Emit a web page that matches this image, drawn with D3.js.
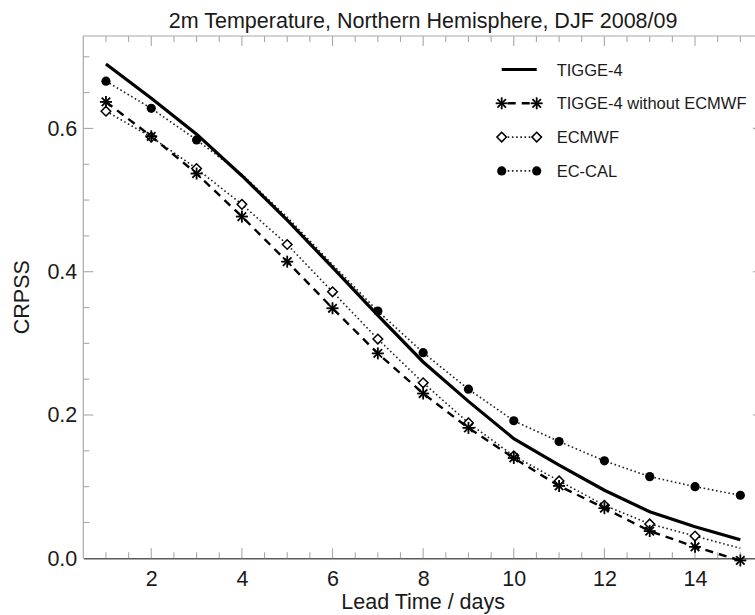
<!DOCTYPE html>
<html>
<head>
<meta charset="utf-8">
<script src="https://cdn.jsdelivr.net/npm/d3@7"></script>
<style>
  body { margin: 0; background: #fff; }
  svg { display: block; font-family: 'Liberation Sans', Arial, Helvetica, sans-serif; }
</style>
</head>
<body>
<svg id="chart" width="755" height="615"></svg>
<script>
// lead time in days
const days = [1, 2, 3, 4, 5, 6, 7, 8, 9, 10, 11, 12, 13, 14, 15];

// CRPSS values
const tigge4 = [0.690, 0.642, 0.592, 0.534, 0.472, 0.406, 0.339, 0.274, 0.219, 0.167, 0.130, 0.095, 0.065, 0.044, 0.026];
const tigge4NoEc = [0.637, 0.589, 0.537, 0.477, 0.414, 0.349, 0.286, 0.230, 0.182, 0.140, 0.101, 0.070, 0.038, 0.016, -0.003];
const ecmwf = [0.624, 0.588, 0.544, 0.494, 0.438, 0.372, 0.306, 0.245, 0.189, 0.143, 0.108, 0.074, 0.048, 0.031, 0.014];
const ecCal = [0.666, 0.628, 0.584, 0.536, 0.476, 0.410, 0.345, 0.287, 0.236, 0.192, 0.163, 0.136, 0.114, 0.100, 0.088];

// days that carry a plot symbol (as in the original figure)
const ecmwfMarked = [1, 2, 3, 4, 5, 6, 7, 8, 9, 10, 11, 12, 13, 14];
const ecCalMarked = [1, 2, 3, 7, 8, 9, 10, 11, 12, 13, 14, 15];

const xTicks = [2, 4, 6, 8, 10, 12, 14];
const yTicks = [0.0, 0.2, 0.4, 0.6];

const legendNames = ['TIGGE-4', 'TIGGE-4 without ECMWF', 'ECMWF', 'EC-CAL'];

const svg = d3.select('#chart');

const plot = { left: 83.3, right: 763, top: 36, bottom: 558.3 };
const fontSize = 21.5;

const x = d3.scaleLinear().domain([0.5, 15.5]).range([plot.left, plot.right]);
const y = d3.scaleLinear().domain([0, 0.729]).range([plot.bottom, plot.top]);

const frameColor = '#a8a8a8';

// frame: top, left, right
svg.append('path')
  .attr('d', `M${plot.left},${plot.bottom}V${plot.top}H${plot.right}V${plot.bottom}`)
  .attr('fill', 'none')
  .attr('stroke', frameColor)
  .attr('stroke-width', 1.2);

// bottom axis
const xAxis = svg.append('g')
  .attr('transform', `translate(0,${plot.bottom})`)
  .call(d3.axisBottom(x).tickValues(xTicks).tickSize(0).tickPadding(12).tickFormat(d3.format('d')));
xAxis.select('.domain').attr('stroke', '#5a5a5a').attr('stroke-width', 1.4);
xAxis.selectAll('text').attr('font-size', fontSize).attr('fill', '#1a1a1a')
  .attr('font-family', "'Liberation Sans', Arial, sans-serif");

// left axis labels
const yAxis = svg.append('g')
  .attr('transform', `translate(${plot.left},0)`)
  .call(d3.axisLeft(y).tickValues(yTicks).tickSize(0).tickPadding(6).tickFormat(d3.format('.1f')));
yAxis.select('.domain').remove();
yAxis.selectAll('text').attr('font-size', fontSize).attr('fill', '#1a1a1a')
  .attr('font-family', "'Liberation Sans', Arial, sans-serif");

// tick marks on all four sides
const xMinor = d3.range(1, 15.01, 0.5);
const yMinor = d3.range(0.05, 0.701, 0.05);
const isMajorX = (d) => Math.abs(d / 2 - Math.round(d / 2)) < 1e-6;
const isMajorY = (d) => Math.abs(d / 0.2 - Math.round(d / 0.2)) < 1e-6;
const ticks = svg.append('g').attr('stroke', frameColor).attr('stroke-width', 1.1);
xMinor.forEach((d) => {
  const len = isMajorX(d) ? 10 : 6;
  ticks.append('line').attr('x1', x(d)).attr('x2', x(d))
    .attr('y1', plot.bottom).attr('y2', plot.bottom - len);
  ticks.append('line').attr('x1', x(d)).attr('x2', x(d))
    .attr('y1', plot.top).attr('y2', plot.top + len);
});
yMinor.forEach((d) => {
  const len = isMajorY(d) ? 10 : 6;
  ticks.append('line').attr('y1', y(d)).attr('y2', y(d))
    .attr('x1', plot.left).attr('x2', plot.left + len);
  ticks.append('line').attr('y1', y(d)).attr('y2', y(d))
    .attr('x1', plot.right).attr('x2', plot.right - len);
});

// titles
svg.append('text')
  .attr('x', x(8)).attr('y', 28)
  .attr('text-anchor', 'middle')
  .attr('font-size', fontSize).attr('fill', '#1a1a1a')
  .text('2m Temperature, Northern Hemisphere, DJF 2008/09');

svg.append('text')
  .attr('x', x(8)).attr('y', 609)
  .attr('text-anchor', 'middle')
  .attr('font-size', fontSize).attr('fill', '#1a1a1a')
  .text('Lead Time / days');

svg.append('text')
  .attr('transform', `translate(29,${(plot.top + plot.bottom) / 2}) rotate(-90)`)
  .attr('text-anchor', 'middle')
  .attr('font-size', fontSize).attr('fill', '#1a1a1a')
  .text('CRPSS');

// line styles
const styles = [
  { width: 3.2, dash: null, color: '#000' },
  { width: 2.4, dash: '8,6', color: '#000' },
  { width: 1.6, dash: '1.6,2.6', color: '#222' },
  { width: 1.6, dash: '1.6,2.6', color: '#222' },
];

const line = d3.line().x((d) => x(d[0])).y((d) => y(d[1]));
const seriesList = [tigge4, tigge4NoEc, ecmwf, ecCal];

// markers
function star(g, cx, cy, r) {
  for (let k = 0; k < 4; k++) {
    const a = (k * Math.PI) / 4;
    g.append('line')
      .attr('x1', cx - r * Math.cos(a)).attr('y1', cy - r * Math.sin(a))
      .attr('x2', cx + r * Math.cos(a)).attr('y2', cy + r * Math.sin(a))
      .attr('stroke', '#000').attr('stroke-width', 1.8);
  }
}
function diamond(g, cx, cy, r) {
  g.append('path')
    .attr('d', `M${cx},${cy - r}L${cx + r},${cy}L${cx},${cy + r}L${cx - r},${cy}Z`)
    .attr('fill', '#fff').attr('stroke', '#000').attr('stroke-width', 1.5);
}
function dot(g, cx, cy, r) {
  g.append('circle').attr('cx', cx).attr('cy', cy).attr('r', r).attr('fill', '#000');
}

// draw order: dotted series first, then dashed, then solid on top
[3, 2, 1, 0].forEach((i) => {
  const s = styles[i];
  svg.append('path')
    .datum(days.map((d, j) => [d, seriesList[i][j]]))
    .attr('d', line)
    .attr('fill', 'none')
    .attr('stroke', s.color)
    .attr('stroke-width', s.width)
    .attr('stroke-dasharray', s.dash);
});

const markG = svg.append('g');
days.forEach((d, j) => {
  if (ecmwfMarked.includes(d)) diamond(markG, x(d), y(ecmwf[j]), 4.8);
  star(markG, x(d), y(tigge4NoEc[j]), 6);
  if (ecCalMarked.includes(d)) dot(markG, x(d), y(ecCal[j]), 4.6);
});

// legend
const legend = svg.append('g');
const lx0 = 501.7;
const lx1 = 536.7;
legendNames.forEach((name, i) => {
  const ly = 69.5 + i * 33.8;
  const s = styles[i];
  legend.append('line')
    .attr('x1', lx0 + (i === 0 ? 0 : 6)).attr('x2', lx1 - (i === 0 ? 0 : 6))
    .attr('y1', ly).attr('y2', ly)
    .attr('stroke', s.color).attr('stroke-width', s.width)
    .attr('stroke-dasharray', s.dash);
  [lx0, lx1].forEach((px) => {
    if (i === 1) star(legend, px, ly, 6);
    if (i === 2) diamond(legend, px, ly, 4.8);
    if (i === 3) dot(legend, px, ly, 4.6);
  });
  legend.append('text')
    .attr('x', 556.7).attr('y', ly + 6)
    .attr('font-size', 16.5).attr('fill', '#1a1a1a')
    .text(name);
});
</script>
</body>
</html>
